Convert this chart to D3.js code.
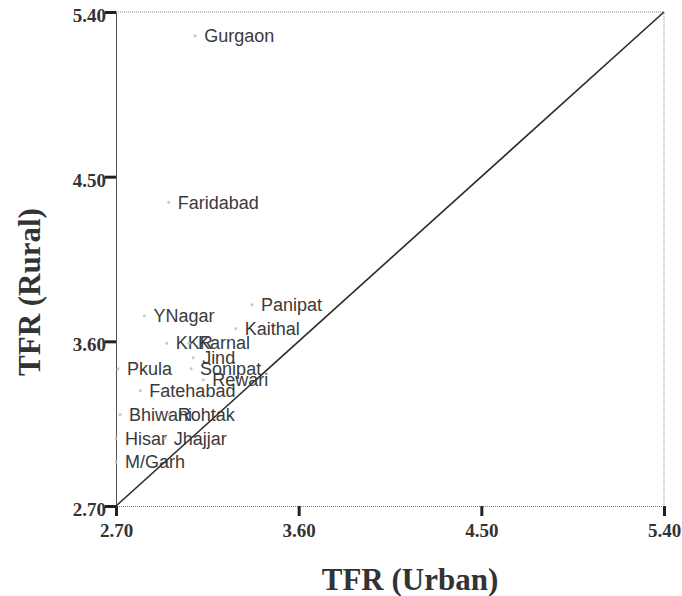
<!DOCTYPE html>
<html>
<head>
<meta charset="utf-8">
<script src="https://cdn.jsdelivr.net/npm/d3@7"></script>
<style>
  body { margin: 0; background: #fff; }
  svg { display: block; }
</style>
</head>
<body>
<svg id="chart" width="682" height="596"></svg>
<script>
// district names and their TFR values (urban, rural)
const districts = ["Gurgaon", "Faridabad", "YNagar", "Panipat", "Kaithal", "KKR", "Karnal", "Jind",
                   "Pkula", "Sonipat", "Rewari", "Fatehabad", "Bhiwani", "Rohtak", "Hisar", "Jhajjar", "M/Garh"];
const tfrUrban = [3.09, 2.96, 2.84, 3.37, 3.29, 2.95, 3.06, 3.08,
                  2.71, 3.07, 3.13, 2.82, 2.72, 2.96, 2.70, 2.94, 2.70];
const tfrRural = [5.27, 4.36, 3.74, 3.80, 3.67, 3.59, 3.59, 3.51,
                  3.45, 3.45, 3.39, 3.33, 3.20, 3.20, 3.07, 3.07, 2.94];
const tickValues = [2.70, 3.60, 4.50, 5.40];

let svg = d3.select("#chart");

let xLeft = 116, xRight = 664, yTop = 12, yBottom = 506;

let xScale = d3.scaleLinear().domain([2.70, 5.40]).range([xLeft, xRight]);
let yScale = d3.scaleLinear().domain([2.70, 5.40]).range([yBottom, yTop]);

// dotted frame on top and right
svg.append("line")
    .attr("x1", xLeft).attr("x2", xRight).attr("y1", yTop).attr("y2", yTop)
    .attr("stroke", "#888").attr("stroke-width", 1).attr("stroke-dasharray", "1,1");
svg.append("line")
    .attr("x1", xRight).attr("x2", xRight).attr("y1", yTop).attr("y2", yBottom)
    .attr("stroke", "#888").attr("stroke-width", 1).attr("stroke-dasharray", "1,1");

// y axis
let yAxis = d3.axisLeft(yScale).tickValues(tickValues).tickSize(11).tickFormat(d3.format(".2f"));
let gY = svg.append("g").attr("transform", "translate(" + xLeft + ",0)").call(yAxis);
gY.select(".domain").attr("stroke", "#555").attr("stroke-width", 1);
gY.selectAll(".tick line").attr("stroke", "#222").attr("stroke-width", 3);
gY.selectAll(".tick text")
    .attr("x", -10).attr("dy", "0.5em")
    .style("font-family", "'Liberation Serif', 'Times New Roman', serif")
    .style("font-weight", "bold").style("font-size", "19px").attr("fill", "#333");

// x axis
let xAxis = d3.axisBottom(xScale).tickValues(tickValues).tickSize(10).tickFormat(d3.format(".2f"));
let gX = svg.append("g").attr("transform", "translate(0," + yBottom + ")").call(xAxis);
gX.select(".domain").attr("stroke", "#777").attr("stroke-width", 1.2).attr("stroke-dasharray", "1,1");
gX.selectAll(".tick line").attr("stroke", "#222").attr("stroke-width", 3);
gX.selectAll(".tick text")
    .attr("y", 18)
    .style("font-family", "'Liberation Serif', 'Times New Roman', serif")
    .style("font-weight", "bold").style("font-size", "19px").attr("fill", "#333");

// equality line
svg.append("line")
    .attr("x1", xScale(2.70)).attr("y1", yScale(2.70))
    .attr("x2", xScale(5.40)).attr("y2", yScale(5.40))
    .attr("stroke", "#2a2a2a").attr("stroke-width", 1.6);

// points and labels
let pts = svg.append("g").selectAll("g").data(districts).enter().append("g");
pts.append("circle")
    .attr("cx", (d, i) => xScale(tfrUrban[i]))
    .attr("cy", (d, i) => yScale(tfrRural[i]))
    .attr("r", 1.5)
    .attr("fill", "#c8c8c8");
pts.append("text")
    .attr("x", (d, i) => xScale(tfrUrban[i]) + 9)
    .attr("y", (d, i) => yScale(tfrRural[i]))
    .attr("dy", "0.35em")
    .style("font-family", "'Liberation Sans', Arial, sans-serif")
    .style("font-size", "18px")
    .attr("fill", "#3a3a3a")
    .text(d => d);

// axis titles
svg.append("text")
    .attr("x", 410).attr("y", 590)
    .attr("text-anchor", "middle")
    .style("font-family", "'Liberation Serif', 'Times New Roman', serif")
    .style("font-weight", "bold").style("font-size", "31px")
    .attr("fill", "#333")
    .text("TFR (Urban)");
svg.append("text")
    .attr("transform", "translate(40,292) rotate(-90)")
    .attr("text-anchor", "middle")
    .style("font-family", "'Liberation Serif', 'Times New Roman', serif")
    .style("font-weight", "bold").style("font-size", "31px")
    .attr("fill", "#333")
    .text("TFR (Rural)");
</script>
</body>
</html>
